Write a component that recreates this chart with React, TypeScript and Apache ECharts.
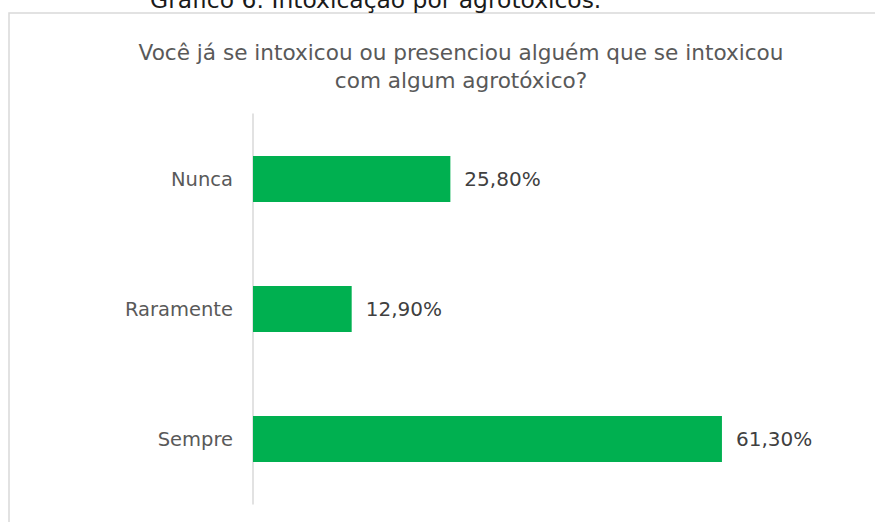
import React, { useEffect, useRef } from "react";
import * as echarts from "echarts";

const categories = ["Nunca", "Raramente", "Sempre"];
const values = [25.8, 12.9, 61.3];
const titleLines = [
  "Você já se intoxicou ou presenciou alguém que se intoxicou",
  "com algum agrotóxico?",
];
const captionText = "Gráfico 6: Intoxicação por agrotóxicos.";

const FONT = "DejaVu Sans";

export default function App() {
  const ref = useRef<HTMLDivElement>(null);
  useEffect(() => {
    if (!ref.current) return;
    const chart = echarts.init(ref.current, null, { renderer: "svg" });
    chart.setOption({
      animation: false,
      backgroundColor: "#ffffff",
      title: {
        text: titleLines.join("\n"),
        left: 456,
        top: 33,
        textAlign: "center",
        textStyle: {
          fontFamily: FONT,
          fontSize: 21.6,
          fontWeight: "normal",
          color: "#595959",
          lineHeight: 28,
        },
      },
      graphic: [
        {
          type: "rect",
          shape: { x: 9, y: 13, width: 1000, height: 700 },
          style: { fill: "none", stroke: "#d9d9d9", lineWidth: 1.5 },
          silent: true,
          z: -1,
        },
        {
          type: "text",
          x: 150,
          y: 0,
          style: {
            text: captionText,
            fontFamily: FONT,
            fontSize: 23.4,
            fill: "#1a1a1a",
            verticalAlign: "middle",
            align: "left",
          },
        },
      ],
      grid: { left: 253, right: 86.5, top: 114, bottom: 18, containLabel: false },
      xAxis: {
        type: "value",
        min: 0,
        max: 70,
        show: false,
        splitLine: { show: false },
      },
      yAxis: {
        type: "category",
        data: categories,
        inverse: true,
        axisLine: { show: true, lineStyle: { color: "#d9d9d9", width: 1.5 } },
        axisTick: { show: false },
        axisLabel: {
          margin: 20,
          fontFamily: FONT,
          fontSize: 19.5,
          color: "#595959",
        },
      },
      series: [
        {
          type: "bar",
          data: values,
          barWidth: 46,
          itemStyle: { color: "#00B050" },
          label: {
            show: true,
            position: "right",
            distance: 14,
            fontFamily: FONT,
            fontSize: 20,
            color: "#404040",
            formatter: (p: any) => p.value.toFixed(2).replace(".", ",") + "%",
          },
        },
      ],
    });
    return () => chart.dispose();
  }, []);
  return (
    <div
      ref={ref}
      style={{ position: "absolute", left: 0, top: 0, width: 875, height: 522 }}
    />
  );
}
